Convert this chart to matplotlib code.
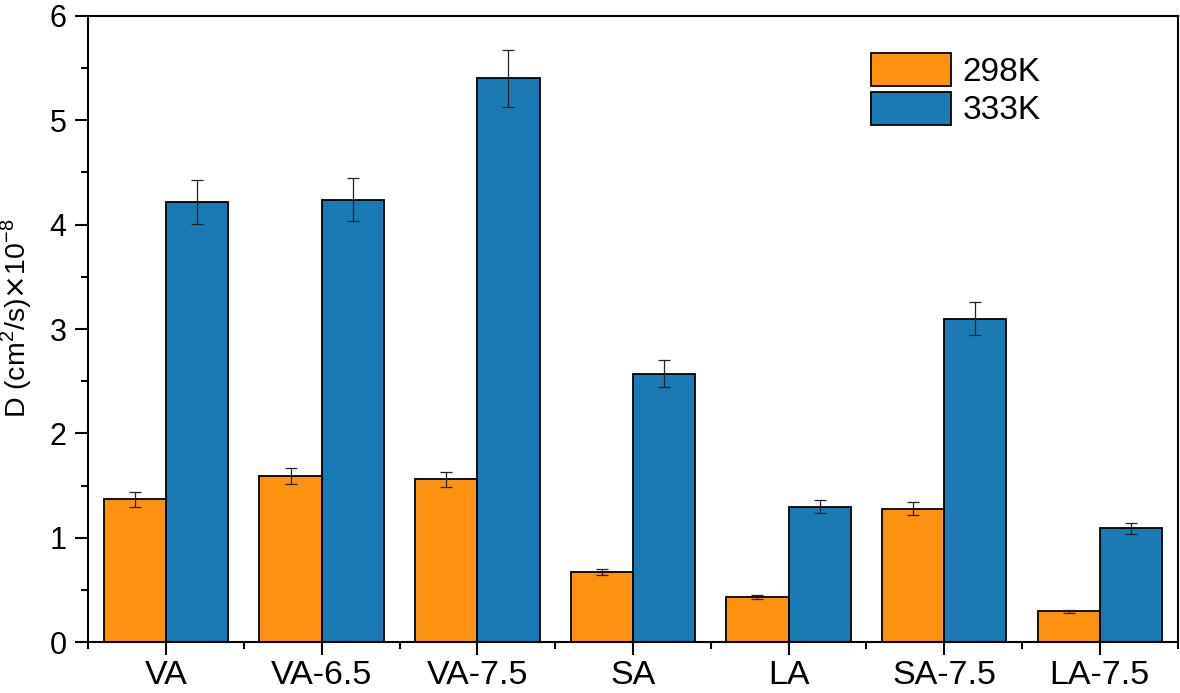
import numpy as np
import matplotlib
matplotlib.use("Agg")
import matplotlib.pyplot as plt
from matplotlib.ticker import MultipleLocator, FixedLocator

# data
samples = ["VA", "VA-6.5", "VA-7.5", "SA", "LA", "SA-7.5", "LA-7.5"]
d_298 = [1.37, 1.59, 1.56, 0.67, 0.43, 1.28, 0.295]
err_298 = [0.07, 0.075, 0.075, 0.03, 0.02, 0.06, 0.012]
d_333 = [4.22, 4.24, 5.40, 2.57, 1.30, 3.10, 1.09]
err_333 = [0.21, 0.21, 0.27, 0.13, 0.065, 0.155, 0.055]
series_labels = ["298K", "333K"]

plt.rcParams['font.family'] = ['Liberation Sans', 'DejaVu Sans']

fig = plt.figure(figsize=(11.8, 6.93), dpi=100)
ax = fig.add_axes([0.0748, 0.0732, 0.9232, 0.9041])

x = np.arange(len(samples))
w = 0.4
err_kw = dict(ecolor='#222222', elinewidth=0.9, capsize=4.5, capthick=0.9)
ax.bar(x - w / 2, d_298, w, yerr=err_298, color='#FD9211', edgecolor='black',
       linewidth=1.3, label=series_labels[0], error_kw=err_kw)
ax.bar(x + w / 2, d_333, w, yerr=err_333, color='#1B79B3', edgecolor='black',
       linewidth=1.3, label=series_labels[1], error_kw=err_kw)

ax.set_xlim(-0.5, 6.5)
ax.set_ylim(0, 6)
ax.set_xticks(x)
ax.set_xticklabels(samples)
ax.xaxis.set_minor_locator(FixedLocator(np.arange(-0.5, 7.0, 1.0)))
ax.yaxis.set_major_locator(MultipleLocator(1))
ax.yaxis.set_minor_locator(MultipleLocator(0.5))

for s in ax.spines.values():
    s.set_linewidth(1.5)
ax.tick_params(axis='both', which='major', direction='out', length=9.5, width=1.5)
ax.tick_params(axis='both', which='minor', direction='out', length=5, width=1.5)
ax.tick_params(axis='x', which='major', labelsize=24.5, pad=3)
ax.tick_params(axis='y', which='major', labelsize=22, pad=6)

ax.set_ylabel(r"D (cm$^\mathregular{2}$/s)$\times$10$^\mathregular{-8}$",
              fontsize=20.5, va='center')
ax.yaxis.set_label_coords(-0.066, 0.517)

ax.legend(loc='upper left', bbox_to_anchor=(0.7185, 0.941), frameon=False,
          fontsize=24, borderpad=0, handlelength=2.4, handleheight=1.15,
          labelspacing=0.12, handletextpad=0.35, borderaxespad=0)

fig.savefig("out.png", dpi=100)
